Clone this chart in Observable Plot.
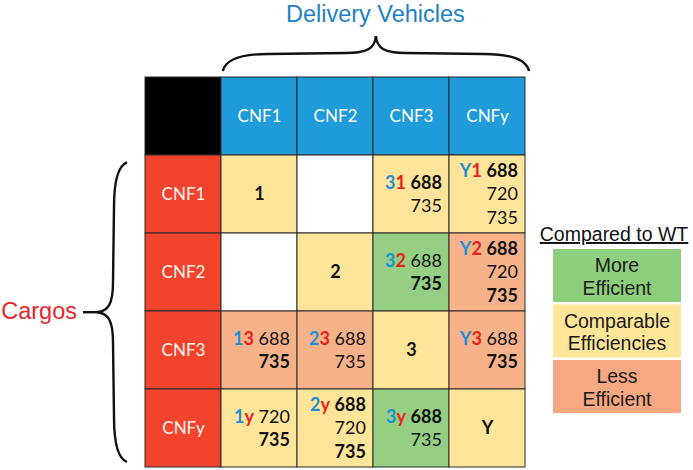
<!DOCTYPE html>
<html><head><meta charset="utf-8">
<script src="https://cdn.jsdelivr.net/npm/d3@7"></script>
<script src="https://cdn.jsdelivr.net/npm/@observablehq/plot@0.6"></script>
<style>
html,body{margin:0;padding:0;background:#fff;}
#chart{position:relative;width:693px;height:470px;}
#chart svg text{white-space:pre;}
</style></head><body><div id="chart"></div>
<script>
// ---- data ----
const vehicles = ["CNF1", "CNF2", "CNF3", "CNFy"];
const cargos = ["CNF1", "CNF2", "CNF3", "CNFy"];
const vehicleCodes = ["1", "2", "3", "Y"];
const cargoCodes = ["1", "2", "3", "y"];
// efficiency[cargo][vehicle]
const efficiency = [
  ["comparable", null, "comparable", "comparable"],
  [null, "comparable", "more", "less"],
  ["less", "less", "comparable", "less"],
  ["comparable", "comparable", "more", "comparable"]
];
const sites = [
  [[], [], ["688", "735"], ["688", "720", "735"]],
  [[], [], ["688", "735"], ["688", "720", "735"]],
  [["688", "735"], ["688", "735"], [], ["688", "735"]],
  [["720", "735"], ["688", "720", "735"], ["688", "735"], []]
];
const boldSites = [
  [[], [], ["688"], ["688"]],
  [[], [], ["735"], ["688", "735"]],
  [["735"], [], [], ["735"]],
  [["735"], ["688", "735"], ["688"], []]
];
const legendKeys = ["more", "comparable", "less"];
const legendLabels = [["More", "Efficient"], ["Comparable", "Efficiencies"], ["Less", "Efficient"]];
const xTitle = "Delivery Vehicles";
const yTitle = "Cargos";
const legendTitle = "Compared to WT";

// ---- styles / layout ----
const X_RANGE = [143, 527], Y_RANGE = [76, 468];
const LINE_H = 23.5;
const BLUE = "#1E8FD4", RED = "#E8231F", INK = "#111";
const kinds = ["corner", "vehicle", "cargo", "more", "comparable", "less", "none"];
const kindColors = ["#000000", "#1E9BD8", "#F2432D", "#94CF84", "#FFE599", "#F8B28A", "#FFFFFF"];
const legendColors = {more: "#8ECF7E", comparable: "#FFE699", less: "#F6A882"};

// ---- derived tables ----
const cells = [{x: "corner", y: "corner", kind: "corner"}];
vehicles.forEach(v => cells.push({x: v, y: "corner", kind: "vehicle"}));
cargos.forEach(c => cells.push({x: "corner", y: c, kind: "cargo"}));
cargos.forEach((c, i) => vehicles.forEach((v, j) =>
  cells.push({x: v, y: c, kind: efficiency[i][j] ?? "none"})));

const diag = vehicles.map((v, i) => ({x: v, y: cargos[i], label: vehicleCodes[i]}));

const lines = [];
cargos.forEach((c, i) => vehicles.forEach((v, j) => {
  const s = sites[i][j], n = s.length;
  s.forEach((num, k) => lines.push({
    x: v, y: c, num,
    bold: boldSites[i][j].includes(num),
    vcode: k === 0 ? vehicleCodes[j] : null,
    ccode: k === 0 ? cargoCodes[i] : null,
    off: (k - (n - 1) / 2) * LINE_H
  }));
}));
lines.forEach((d, i) => d.id = "L" + i);
const offsets = [...new Set(lines.map(d => d.off))];

const bw = (X_RANGE[1] - X_RANGE[0]) / (vehicles.length + 1);

const plot = Plot.plot({
  width: 693, height: 470, margin: 0,
  style: {background: "white", fontFamily: "Lato, 'Open Sans', sans-serif", overflow: "visible"},
  x: {type: "band", domain: ["corner", ...vehicles], range: X_RANGE, padding: 0, axis: null},
  y: {type: "band", domain: ["corner", ...cargos], range: Y_RANGE, padding: 0, axis: null},
  color: {type: "ordinal", domain: kinds, range: kindColors},
  marks: [
    Plot.cell(cells, {x: "x", y: "y", fill: "kind", stroke: "#2a2a2a", strokeWidth: 1, inset: 0}),
    Plot.text(vehicles, {x: d => d, y: () => "corner", text: d => d, fill: "white", fontSize: 17}),
    Plot.text(cargos, {x: () => "corner", y: d => d, text: d => d, fill: "#fff4f0", fontSize: 17}),
    Plot.text(diag, {x: "x", y: "y", text: "label", fill: INK, fontWeight: "bold", fontSize: 18}),
    ...offsets.map(o => Plot.text(lines.filter(d => d.off === o), {
      x: "x", y: "y", text: d => (d.vcode ? d.vcode + d.ccode + " " : "") + d.num,
      dy: o, dx: bw / 2 - 8, textAnchor: "end", fontSize: 18, fill: INK, ariaLabel: d => d.id
    }))
  ]
});
document.getElementById("chart").appendChild(plot);

// ---- rich text for the cell lines ----
const NS = "http://www.w3.org/2000/svg";
lines.forEach(d => {
  const t = plot.querySelector(`text[aria-label="${d.id}"]`);
  if (!t) return;
  t.textContent = "";
  const add = (s, fill, weight) => {
    const ts = document.createElementNS(NS, "tspan");
    ts.textContent = s; ts.setAttribute("fill", fill); ts.setAttribute("font-weight", weight);
    t.appendChild(ts);
  };
  if (d.vcode) { add(d.vcode, BLUE, "bold"); add(d.ccode, RED, "bold"); add(" ", INK, "normal"); }
  add(d.num, INK, d.bold ? "bold" : "normal");
});

// ---- braces, titles, legend (positioned from the scales) ----
const sx = plot.scale("x"), sy = plot.scale("y");
const xStep = (sx.range[1] - sx.range[0]) / sx.domain.length;
const yStep = (sy.range[1] - sy.range[0]) / sy.domain.length;
const gx0 = sx.range[0] + xStep, gx1 = sx.range[1];
const gy0 = sy.range[0] + yStep, gy1 = sy.range[1];
const gTop = sy.range[0], gLeft = sx.range[0];
const svg = d3.select(plot);

function hBrace(x0, x1, yb, ym, yt) {
  const xm = (x0 + x1) / 2;
  return `M${x0},${yb} C${x0 + 3},${ym + 5} ${x0 + 18},${ym} ${x0 + 45},${ym} ` +
    `L${xm - 30},${ym - 1} C${xm - 8},${ym - 1} ${xm - 1},${ym - 6} ${xm},${yt} ` +
    `C${xm + 1},${ym - 6} ${xm + 8},${ym - 1} ${xm + 30},${ym - 1} ` +
    `L${x1 - 45},${ym} C${x1 - 18},${ym} ${x1 - 3},${ym + 5} ${x1},${yb}`;
}
function vBrace(y0, y1, xb, xm, xt) {
  const ym = (y0 + y1) / 2;
  return `M${xb},${y0} C${xm + 5},${y0 + 3} ${xm},${y0 + 18} ${xm},${y0 + 45} ` +
    `L${xm - 1},${ym - 30} C${xm - 1},${ym - 8} ${xm - 6},${ym - 1} ${xt},${ym} ` +
    `C${xm - 6},${ym + 1} ${xm - 1},${ym + 8} ${xm - 1},${ym + 30} ` +
    `L${xm},${y1 - 45} C${xm},${y1 - 18} ${xm + 5},${y1 - 3} ${xb},${y1}`;
}
const braceStyle = s => s.attr("fill", "none").attr("stroke", "#111").attr("stroke-width", 2.4);

svg.append("path").attr("d", hBrace(gx0 + 3, gx1 + 2, gTop - 5, gTop - 22, gTop - 40)).call(braceStyle);
svg.append("text").attr("x", (gx0 + gx1) / 2 + 2).attr("y", gTop - 54)
  .attr("text-anchor", "middle").attr("font-family", "'Liberation Sans', Arial, sans-serif")
  .attr("font-size", 23.5).attr("fill", "#1E7FC4").text(xTitle);

const cy = (gy0 + gy1) / 2;
svg.append("path").attr("d", vBrace(gy0 + 8, gy1 - 6, gLeft - 16, gLeft - 29, gLeft - 46)).call(braceStyle);
svg.append("path").attr("d", `M${gLeft - 60},${cy + 1} L${gLeft - 46},${cy + 1}`).call(braceStyle);
svg.append("text").attr("x", gLeft - 66).attr("y", cy + 8)
  .attr("text-anchor", "end").attr("font-family", "'Liberation Sans', Arial, sans-serif")
  .attr("font-size", 23.5).attr("fill", "#E8262B").text(yTitle);

// legend
const lgX = gx1 + 26, lgW = 128, lgH = 53, lgGap = 2.5, lgTop = gTop + 173;
const lgFont = "'Liberation Sans', Arial, sans-serif";
svg.append("text").attr("x", lgX + lgW / 2 - 3).attr("y", lgTop - 8)
  .attr("text-anchor", "middle").attr("font-family", lgFont).attr("font-size", 19.5)
  .attr("fill", "#111").attr("text-decoration", "underline").text(legendTitle);
legendKeys.forEach((k, i) => {
  const y0 = lgTop + i * (lgH + lgGap);
  svg.append("rect").attr("x", lgX).attr("y", y0).attr("width", lgW).attr("height", lgH)
    .attr("fill", legendColors[k]);
  const c = y0 + lgH / 2 + 1;
  legendLabels[i].forEach((s, j) => {
    svg.append("text").attr("x", lgX + lgW / 2).attr("y", c + (j - 0.5) * 22.5 + 7)
      .attr("text-anchor", "middle").attr("font-family", lgFont).attr("font-size", 19.5)
      .attr("fill", "#1a1a1a").text(s);
  });
});
</script></body></html>
